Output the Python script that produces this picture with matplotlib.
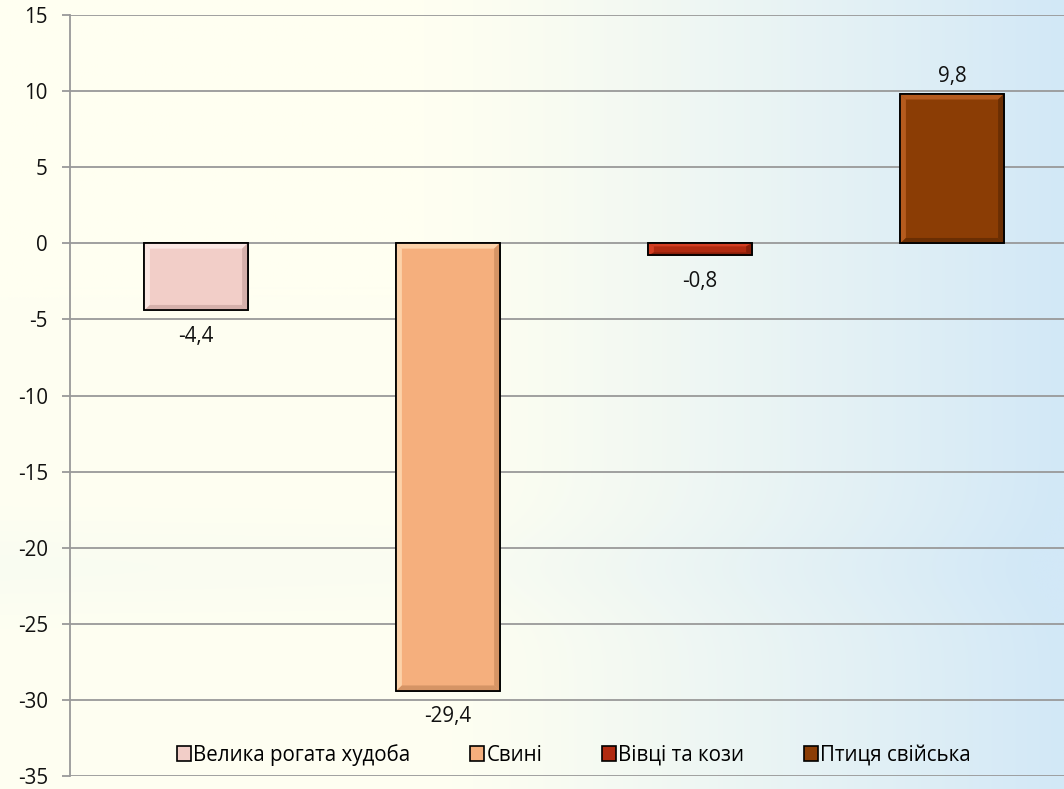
import matplotlib.pyplot as plt
from matplotlib.patches import Patch, Polygon
from matplotlib.colors import to_rgb
import numpy as np

categories = ['Велика рогата худоба', 'Свині', 'Вівці та кози', 'Птиця свійська']
values = [-4.4, -29.4, -0.8, 9.8]
labels = ['-4,4', '-29,4', '-0,8', '9,8']
yticks = [-35, -30, -25, -20, -15, -10, -5, 0, 5, 10, 15]

face = ['#F2CEC8', '#F5AF7D', '#B02A10', '#8B3D05']
light = ['#FFF2EF', '#FFE2BC', '#E2472A', '#C8692A']
dark = ['#C9A49F', '#C8895C', '#771A07', '#5C2803']

plt.rcParams['font.family'] = ['Open Sans', 'DejaVu Sans']
FS = 14.8

fig = plt.figure(figsize=(10.64, 7.89), dpi=100)

# background: pale yellow on the left fading to light blue on the right
bg = fig.add_axes([0, 0, 1, 1], zorder=-1)
bg.axis('off')
nx, ny = 400, 300
gx = np.linspace(0, 1, nx)[None, :]
gy = np.linspace(0, 1, ny)[:, None]
left_c = np.array(to_rgb('#FFFFF1'))
right_c = np.array(to_rgb('#D2E8F7'))
t = np.clip((gx - 0.4) / 0.6, 0, 1) ** 1.2
t = t * np.ones_like(gy)
# faint bluish streak in the lower part
haze = 0.12 * np.exp(-((gy - 0.72) / 0.06) ** 2) * (1 - gx * 0.5)
t = np.clip(t + haze, 0, 1)
img = left_c[None, None, :] * (1 - t[..., None]) + right_c[None, None, :] * t[..., None]
bg.imshow(img, aspect='auto', extent=[0, 1, 0, 1], origin='upper')

ax = fig.add_axes([70 / 1064, 13 / 789, 1008 / 1064, 761 / 789])
ax.patch.set_alpha(0)

x = np.arange(len(values))
bars = ax.bar(x, values, width=0.41, color=face, edgecolor='black',
              linewidth=1.2, zorder=3)

# simple bevel on each bar
bw = 0.022
for i, b in enumerate(bars):
    x0, w = b.get_x(), b.get_width()
    y0 = min(0, b.get_height())
    h = abs(b.get_height())
    by = min(0.35, h / 4)
    x1, y1 = x0 + w, y0 + h
    polys = [
        ([(x0, y0), (x0 + bw, y0 + by), (x0 + bw, y1 - by), (x0, y1)], light[i]),
        ([(x0, y1), (x0 + bw, y1 - by), (x1 - bw, y1 - by), (x1, y1)], light[i]),
        ([(x1, y0), (x1 - bw, y0 + by), (x1 - bw, y1 - by), (x1, y1)], dark[i]),
        ([(x0, y0), (x0 + bw, y0 + by), (x1 - bw, y0 + by), (x1, y0)], dark[i]),
    ]
    for pts, c in polys:
        ax.add_patch(Polygon(pts, closed=True, facecolor=c, edgecolor='none',
                             alpha=0.7, zorder=3.5))
    ax.add_patch(plt.Rectangle((x0, y0), w, h, facecolor='none',
                               edgecolor='black', linewidth=1.2, zorder=4))

for xi, v, lab in zip(x, values, labels):
    if v < 0:
        ax.annotate(lab, (xi, v), xytext=(0, -11), textcoords='offset points',
                    ha='center', va='top', fontsize=FS, color='#111111')
    else:
        ax.annotate(lab, (xi, v), xytext=(0, 5), textcoords='offset points',
                    ha='center', va='bottom', fontsize=FS, color='#111111')

ax.set_xlim(-0.5, 3.5)
ax.set_ylim(-35, 15)
ax.set_yticks(yticks)
ax.set_yticklabels([str(t) for t in yticks], fontsize=FS, color='#111111')
ax.set_xticks([])
ax.yaxis.grid(True, color='#999999', linewidth=1.3, zorder=0)
ax.set_axisbelow(True)
for s in ['top', 'right', 'bottom']:
    ax.spines[s].set_visible(False)
ax.spines['left'].set_color('#999999')
ax.spines['left'].set_linewidth(1.3)
ax.tick_params(axis='y', length=6, width=1.3, color='#999999', pad=10)

handles = [Patch(facecolor=c, edgecolor='black', linewidth=1.2) for c in face]
leg = ax.legend(handles, categories, loc='lower center', ncol=4,
                bbox_to_anchor=(0.5, 0.0), frameon=False, fontsize=FS,
                handlelength=0.7, handleheight=0.7, handletextpad=0.1,
                columnspacing=2.9, borderaxespad=0.1)

fig.savefig('out.png', dpi=100)
